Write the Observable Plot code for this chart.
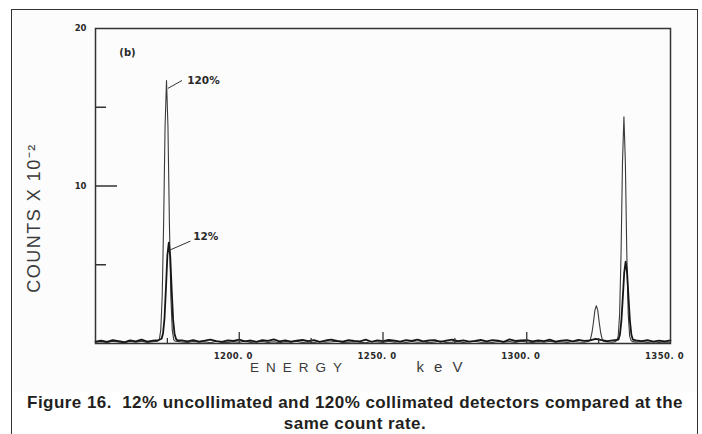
<!DOCTYPE html>
<html>
<head>
<meta charset="utf-8">
<script src="https://cdn.jsdelivr.net/npm/d3@7"></script>
<script src="https://cdn.jsdelivr.net/npm/@observablehq/plot@0.6"></script>
<style>
  body { margin: 0; background: #fff; }
  #wrap { position: relative; width: 702px; height: 434px; overflow: hidden; }
  #bg { position: absolute; left: 12px; top: 10px; width: 685px; height: 382px; background: #fcfcfc; }
  #frame { position: absolute; left: 11px; top: 9px; width: 685px; height: 440px; border: 1.5px solid #333; border-bottom: none; }
  #chart { position: absolute; left: 0; top: 0; }
  #cap { position: absolute; left: 12px; width: 686px; top: 392px; text-align: center;
         font: bold 17px "Liberation Sans", Arial, sans-serif; letter-spacing: 0.45px; line-height: 21px; color: #231f20; }
</style>
</head>
<body>
<div id="wrap">
  <div id="bg"></div>
  <div id="frame"></div>
  <div id="chart"></div>
  <div id="cap">Figure 16.&nbsp; 12% uncollimated and 120% collimated detectors compared at the<br>same count rate.</div>
</div>
<script>
// ---- data (energy in keV, counts ×10^2) ----
const baseE = [
  1180,1182,1184,1186,1188,1190,1192,1194,1196,1198,
  1200,1202,1204,1206,1208,1210,1212,1214,1216,1218,
  1220,1222,1224,1226,1228,1230,1232,1234,1236,1238,
  1240,1242,1244,1246,1248,1250,1252,1254,1256,1258,
  1260,1262,1264,1266,1268,1270,1272,1274,1276,1278,
  1280,1282,1284,1286,1288,1290,1292,1294,1296,1298,
  1300,1302,1304,1306,1308,1310,1312,1314,1316,1318,
  1320
];

// 12% uncollimated detector
const e12 = [
  1150,1152,1154,1156,1158,1160,1162,1164,1166,1168,1170,1172,
  1173,1173.5,1174,1174.5,1175,1175.5,1176,1176.5,1177,1177.5,1178,1178.5,
  ...baseE,
  1322,1324,1326,1328,1330,
  1331.9,1332.4,1332.9,1333.4,1333.9,1334.4,1334.9,1335.4,1335.9,1336.4,1336.9,
  1338,1340,1342,1344,1346,1348,1350
];
const c12 = [
  0.12,0.18,0.10,0.22,0.15,0.08,0.20,0.14,0.25,0.12,0.18,0.22,
  0.3,0.65,1.6,3.5,5.6,6.4,5.5,3.4,1.5,0.6,0.3,0.2,
  0.20,0.14,0.22,0.12,0.18,0.25,0.15,0.10,0.20,0.16,
  0.24,0.13,0.19,0.11,0.22,0.17,0.26,0.14,0.20,0.12,
  0.18,0.23,0.15,0.21,0.10,0.19,0.25,0.16,0.12,0.22,
  0.17,0.14,0.24,0.11,0.20,0.15,0.23,0.18,0.12,0.21,
  0.16,0.25,0.13,0.19,0.22,0.10,0.18,0.24,0.15,0.20,
  0.12,0.17,0.23,0.14,0.21,0.18,0.11,0.26,0.16,0.19,
  0.22,0.13,0.20,0.15,0.24,0.12,0.18,0.21,0.14,0.23,
  0.17,
  0.2,0.3,0.22,0.15,0.2,
  0.25,0.55,1.4,2.9,4.5,5.2,4.5,2.9,1.4,0.55,0.25,
  0.2,0.15,0.22,0.12,0.18,0.14,0.2
];

// 120% collimated detector
const e120 = [
  1150,1152,1154,1156,1158,1160,1162,1164,1166,1168,1170,
  1171.7,1172.2,1172.7,1173.2,1173.7,1174.2,1174.7,1175.2,1175.7,1176.2,1176.7,1177.2,1177.7,
  ...baseE,
  1321.7,1322.2,1322.7,1323.2,1323.7,1324.2,1324.7,1325.2,1325.7,1326.2,1326.7,
  1328,1330,
  1330.8,1331.3,1331.8,1332.3,1332.8,1333.3,1333.8,1334.3,1334.8,1335.3,1335.8,1336.3,1336.8,
  1338,1340,1342,1344,1346,1348,1350
];
const c120 = [
  0.08,0.12,0.06,0.15,0.10,0.05,0.13,0.09,0.14,0.07,0.11,
  0.15,0.25,0.85,3.0,7.7,13.8,16.7,13.8,7.7,3.0,0.85,0.25,0.15,
  0.10,0.06,0.13,0.08,0.11,0.05,0.14,0.09,0.07,0.12,
  0.08,0.15,0.06,0.10,0.13,0.07,0.11,0.05,0.12,0.09,
  0.14,0.07,0.10,0.06,0.13,0.08,0.11,0.15,0.06,0.09,
  0.12,0.08,0.05,0.13,0.10,0.07,0.14,0.09,0.11,0.06,
  0.13,0.08,0.12,0.05,0.10,0.15,0.07,0.09,0.12,0.06,
  0.11,0.14,0.08,0.10,0.06,0.13,0.09,0.12,0.07,0.15,
  0.10,0.06,0.12,0.08,0.14,0.09,0.11,0.07,0.13,0.10,
  0.08,
  0.15,0.3,0.7,1.35,2.1,2.4,2.1,1.35,0.7,0.3,0.15,
  0.1,0.08,
  0.12,0.18,0.45,1.85,5.7,11.5,14.4,11.5,5.7,1.85,0.45,0.18,0.12,
  0.09,0.12,0.07,0.11,0.06,0.10,0.08
];

// axis ticks and labels
const xLabelTicks = [1200, 1250, 1300, 1350];
const xMajorTicks = [1200, 1250, 1300];
const xMinorTicks = [1175, 1225, 1275, 1325];
const yLabelTicks = [10, 20];
const yMajorTicks = [10];
const yMinorTicks = [5, 15];

// peak annotations: leader from (x1,y1) to (x2,y2), label at (lx,ly)
const annLabels = ["120%", "12%"];
const annX1 = [1175.2, 1175.45];
const annY1 = [16.2, 5.9];
const annX2 = [1180.1, 1183.0];
const annY2 = [16.7, 6.5];
const annLX = [1181.9, 1184.0];
const annLY = [16.67, 6.76];

const s12 = e12.map((e, i) => ({e, c: c12[i]}));
const s120 = e120.map((e, i) => ({e, c: c120[i]}));
const ann = annLabels.map((t, i) => ({t, x1: annX1[i], y1: annY1[i], x2: annX2[i], y2: annY2[i], lx: annLX[i], ly: annLY[i]}));

const W = 702, H = 392, ML = 95, MR = 32, MT = 28, MB = 49;
const FW = W - ML - MR, FH = H - MT - MB;
const ink = "#2a2a2a";
const bold = {fontFamily: "DejaVu Sans", fontWeight: "bold", fill: ink};
const thin = {fontFamily: "Liberation Sans", fill: "#3a3a3a", textAnchor: "middle"};

const svg = Plot.plot({
  width: W, height: H,
  marginLeft: ML, marginRight: MR, marginTop: MT, marginBottom: MB,
  x: {domain: [1150, 1350], axis: null},
  y: {domain: [0, 20], axis: null},
  style: {background: "transparent", overflow: "visible"},
  marks: [
    Plot.line(s120, {x: "e", y: "c", stroke: "#3a3a3a", strokeWidth: 1.1}),
    Plot.line(s12, {x: "e", y: "c", stroke: "#161616", strokeWidth: 1.8}),
    Plot.frame({stroke: "#333", strokeWidth: 1.5}),
    Plot.tickY(yMajorTicks, {y: d => d, insetRight: FW - 22, stroke: "#333", strokeWidth: 1.5}),
    Plot.tickY(yMinorTicks, {y: d => d, insetRight: FW - 11, stroke: "#333", strokeWidth: 1.5}),
    Plot.tickX(xMajorTicks, {x: d => d, insetTop: FH - 11, stroke: "#333", strokeWidth: 1.3}),
    Plot.tickX(xMinorTicks, {x: d => d, insetTop: FH - 5, stroke: "#333", strokeWidth: 1.3}),
    Plot.text(xLabelTicks, {x: d => d, frameAnchor: "bottom", dy: 15, dx: -6, textAnchor: "middle",
      text: d => d.toFixed(1).replace(".", ". "), fontSize: 8.5, ...bold}),
    Plot.text(yLabelTicks, {y: d => d, frameAnchor: "left", dx: -9, textAnchor: "end",
      text: d => String(d), fontSize: 8.5, ...bold}),
    Plot.link(ann, {x1: "x1", y1: "y1", x2: "x2", y2: "y2", stroke: "#333", strokeWidth: 1}),
    Plot.text(ann, {x: "lx", y: "ly", text: "t", textAnchor: "start", fontSize: 10.5, ...bold}),
    Plot.text(["(b)"], {frameAnchor: "top-left", dx: 32, dy: 20, textAnchor: "middle", fontSize: 10, ...bold}),
    Plot.text(["ENERGY"], {frameAnchor: "bottom-left", dx: 204, dy: 28, fontSize: 13.5, ...thin}),
    Plot.text(["keV"], {frameAnchor: "bottom-left", dx: 349, dy: 28, fontSize: 15, ...thin}),
    Plot.text(["COUNTS X 10⁻²"], {frameAnchor: "left", dx: -61, dy: 32, rotate: -90, fontSize: 18, ...thin})
  ]
});

d3.select(svg).selectAll("text").each(function () {
  const t = this.textContent;
  if (t === "ENERGY") d3.select(this).attr("letter-spacing", "7px");
  if (t === "keV") d3.select(this).attr("letter-spacing", "10px");
  if (t.startsWith("COUNTS")) d3.select(this).attr("letter-spacing", "1.5px");
  if (/^\d{4}\. /.test(t)) d3.select(this).attr("letter-spacing", "0.5px");
});

document.getElementById("chart").appendChild(svg);
</script>
</body>
</html>
